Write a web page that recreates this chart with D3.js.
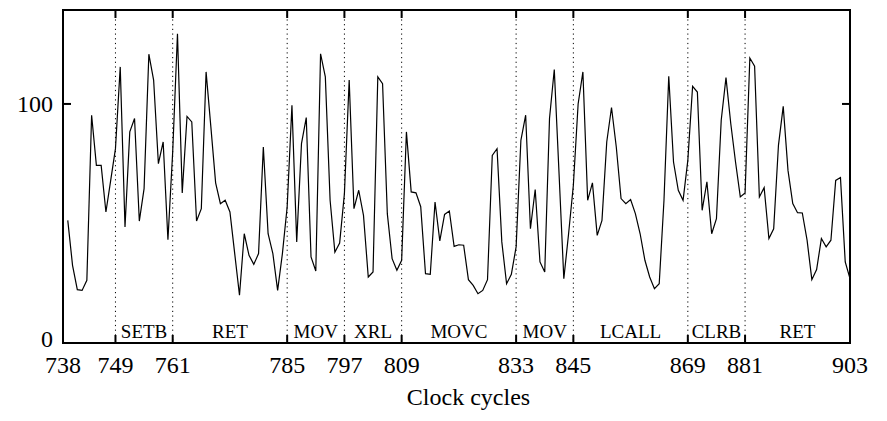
<!DOCTYPE html>
<html><head><meta charset="utf-8">
<script src="https://cdn.jsdelivr.net/npm/d3@7"></script>
<style>body{margin:0;background:#fff}svg{display:block}text{font-family:"Liberation Serif","DejaVu Serif","Times New Roman",Times,serif}</style>
</head><body><svg id="c" width="887" height="421"></svg>
<script>
const startCycle = 739;
const values = [51.3,32.5,22.3,22,26.2,95.3,74.3,74.3,54.8,68,81.3,115.5,48.5,88.3,93.9,51,64.6,120.8,110,75,84.1,43.2,80,
129.4,62.8,94.8,92.5,51,56.2,113.4,90.4,67,58.3,59.7,54.8,37.4,20,45.7,36.7,32.9,37.4,82,45.7,
37.4,22,37.4,57,99.4,42.3,83.4,94.3,36,30.1,121,111.3,59.7,38,41.8,62.5,110,56.2,63.9,53.4,27.6,29.7,111.3,108.5,54,35.3,30.4,34.6,
88.3,63.2,62.8,57,29,28.7,59,42.7,53.8,55.2,40.4,41.1,40.9,26.5,24.1,20.6,22,26.5,78.5,81.3,42.3,24.8,28.7,40.2,
84.8,95.3,47.8,64.2,33.9,29.7,93.9,114.4,70.9,26.9,45.7,66,100,113.4,59.7,67,45,51.3,84.1,98.5,82,60.4,58.3,60,54.1,45.7,34.6,27.6,22.7,24.8,59.7,111.6,
75.7,63.9,59.7,76.4,107.4,105,55.5,67.4,45.7,52,93.2,111,91.8,75.7,61.1,62.8,119.2,115.8,61.1,65,43.7,47.8,82.7,99,72.2,58.3,54.5,54.4,43,26.5,30.7,43.7,40.2,43,68,69.2,33.9,26.9];
const boundaries = [749,761,785,797,809,833,845,869,881];
const xTicks = [738,749,761,785,797,809,833,845,869,881,903];
const yTicks = [0,100];
const segments = [[749,761,"SETB"],[761,785,"RET"],[785,797,"MOV"],[797,809,"XRL"],[809,833,"MOVC"],[833,845,"MOV"],[845,869,"LCALL"],[869,881,"CLRB"],[881,903,"RET"]];

const L=63,R=850,T=10,B=343;
const svg=d3.select("#c");
const x=d3.scaleLinear().domain([738,903]).range([L,R]);
const y=d3.scaleLinear().domain([0,139.3]).range([B,T]);

svg.selectAll("line.b").data(boundaries).join("line")
 .attr("x1",d=>x(d)).attr("x2",d=>x(d)).attr("y1",T).attr("y2",B)
 .attr("stroke","#000").attr("stroke-width",1).attr("stroke-dasharray","1.2,3.5");

const data=values.map((v,i)=>[startCycle+i,v]);
svg.append("path").datum(data)
 .attr("d",d3.line().x(d=>x(d[0])).y(d=>y(d[1])))
 .attr("fill","none").attr("stroke","#000").attr("stroke-width",1.2);

svg.append("rect").attr("x",L).attr("y",T).attr("width",R-L).attr("height",B-T)
 .attr("fill","none").attr("stroke","#000").attr("stroke-width",2);

const tl=8;
xTicks.forEach(t=>{
 svg.append("line").attr("x1",x(t)).attr("x2",x(t)).attr("y1",B).attr("y2",B-tl).attr("stroke","#000").attr("stroke-width",2);
 svg.append("line").attr("x1",x(t)).attr("x2",x(t)).attr("y1",T).attr("y2",T+tl).attr("stroke","#000").attr("stroke-width",2);
});
yTicks.forEach(t=>{
 svg.append("line").attr("x1",L).attr("x2",L+tl).attr("y1",y(t)).attr("y2",y(t)).attr("stroke","#000").attr("stroke-width",2);
 svg.append("line").attr("x1",R).attr("x2",R-tl).attr("y1",y(t)).attr("y2",y(t)).attr("stroke","#000").attr("stroke-width",2);
});

svg.selectAll("text.xt").data(xTicks).join("text")
 .attr("x",d=>x(d)).attr("y",B+30).attr("text-anchor","middle")
 .attr("font-size",24).text(d=>d);
svg.selectAll("text.yt").data(yTicks).join("text")
 .attr("x",L-10).attr("y",d=>y(d)+(d===0?4:8)).attr("text-anchor","end")
 .attr("font-size",24).text(d=>d);

svg.selectAll("text.seg").data(segments).join("text")
 .attr("x",d=>x((d[0]+d[1])/2)).attr("y",B-5).attr("text-anchor","middle")
 .attr("font-size",19).text(d=>d[2]);

svg.append("text").attr("x",(L+R)/2+12).attr("y",B+62).attr("text-anchor","middle")
 .attr("font-size",24).text("Clock cycles");
</script></body></html>
